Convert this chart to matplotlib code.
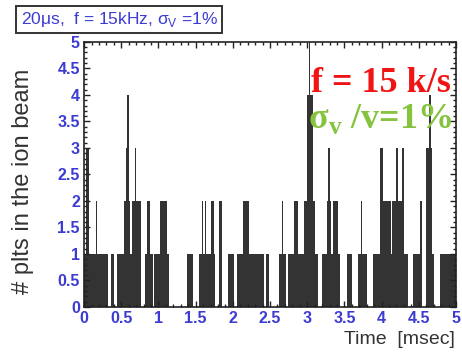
import numpy as np
import matplotlib
matplotlib.use("Agg")
import matplotlib.pyplot as plt
from matplotlib.ticker import MultipleLocator

plt.rcParams['font.family'] = ['Liberation Sans', 'DejaVu Sans']
plt.rcParams['mathtext.fontset'] = 'custom'
plt.rcParams['mathtext.rm'] = 'Liberation Serif'
plt.rcParams['mathtext.sf'] = 'Liberation Sans'
plt.rcParams['mathtext.bf'] = 'Liberation Serif:bold'

# counts per 20 us bin, 0 .. 5 ms (250 bins)
bin_width = 0.02
counts_str = (
    "1331111121" "1111110011" "0011111234" "2122322200" "0122110111"
    "1222221000" "0000000001" "1110000112" "1211122100" "0220000111"
    "1001111222" "2111111111" "1011000000" "0112110111" "1222111122"
    "4544211000" "1112321222" "2100000111" "0000112111" "0000111113"
    "3222221222" "3222311100" "0111112000" "3343100001" "1111111111"
)
counts = [int(c) for c in counts_str]
edges = np.arange(len(counts)) * bin_width

xticks = [0, 0.5, 1, 1.5, 2, 2.5, 3, 3.5, 4, 4.5, 5]
xticklabels = ["0", "0.5", "1", "1.5", "2", "2.5", "3", "3.5", "4", "4.5", "5"]
yticks = [0, 0.5, 1, 1.5, 2, 2.5, 3, 3.5, 4, 4.5, 5]
yticklabels = ["0", "0.5", "1", "1.5", "2", "2.5", "3", "3.5", "4", "4.5", "5"]

blue = '#3c3cd2'
fig = plt.figure(figsize=(4.62, 3.52), dpi=100)
ax = fig.add_axes([0.182, 0.128, 0.805, 0.753])

ax.bar(edges, counts, width=bin_width, align='edge', color='#333333', linewidth=0)

ax.set_xlim(0, 5)
ax.set_ylim(0, 5)
ax.set_xticks(xticks)
ax.set_xticklabels(xticklabels, fontweight='bold')
ax.set_yticks(yticks)
ax.set_yticklabels(yticklabels, fontweight='bold')
ax.xaxis.set_minor_locator(MultipleLocator(0.1))
ax.yaxis.set_minor_locator(MultipleLocator(0.1))
ax.tick_params(which='both', direction='in', top=True, right=True, colors='#222222',
               labelcolor=blue, labelsize=11.5, width=1)
ax.tick_params(which='major', length=4.5, pad=3)
ax.tick_params(which='minor', length=2.2)
for s in ax.spines.values():
    s.set_linewidth(1.2)
    s.set_color('#222222')

fig.text(0.05, 0.485, "# plts in the ion beam", rotation=90, ha='center', va='center',
         fontsize=17, color='#333333')
fig.text(0.985, 0.022, "Time  [msec]", ha='right', va='baseline', fontsize=14, color='#333333')

fig.text(0.045, 0.945, "20\u03bcs,  f = 15kHz, \u03c3$_\\mathsf{V}$ =1%", ha='left', va='center',
         fontsize=12.5, color=blue,
         bbox=dict(boxstyle='square,pad=0.25', facecolor='white', edgecolor='#333333', linewidth=1.4))

fig.text(0.975, 0.74, "f = 15 k/s", ha='right', va='baseline', fontsize=26,
         family='Liberation Serif', fontweight='bold', color='#f01414')
fig.text(0.978, 0.637, "\u03c3$_\\mathbf{v}$ /v=1%", ha='right', va='baseline', fontsize=26,
         family='Liberation Serif', fontweight='bold', color='#86c440')

fig.savefig("out.png", dpi=100)
